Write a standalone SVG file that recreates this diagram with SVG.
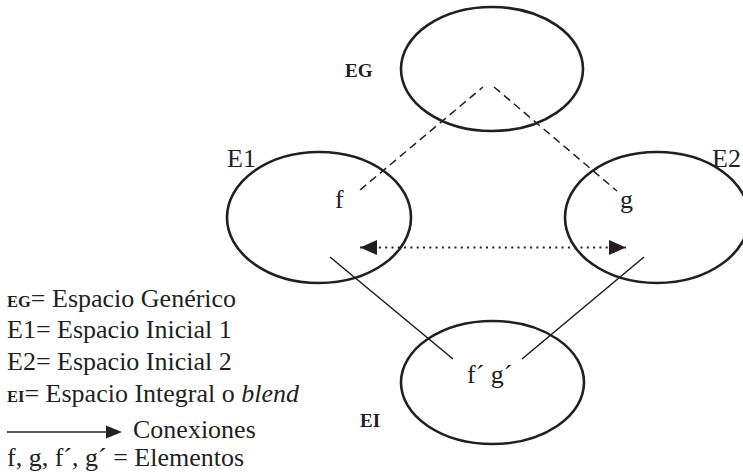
<svg xmlns="http://www.w3.org/2000/svg" width="743" height="474" viewBox="0 0 743 474">
  <style>
    text { fill: #231f20; }
    .space { fill: none; stroke: #231f20; stroke-width: 2.6; }
    .dash { stroke: #231f20; stroke-width: 1.5; stroke-dasharray: 8 5; fill: none; }
    .dot { stroke: #231f20; stroke-width: 2; stroke-dasharray: 2 4.3; fill: none; }
    .solid { stroke: #231f20; stroke-width: 1.6; fill: none; }
  </style>
  <defs>
    <marker id="head" markerWidth="17" markerHeight="15" refX="17" refY="7.5" orient="auto-start-reverse" markerUnits="userSpaceOnUse">
      <path d="M0,0 L17,7.5 L0,15 Z" fill="#231f20"/>
    </marker>
  </defs>

  <!-- generic space -->
  <g id="eg">
    <ellipse class="space" cx="492" cy="69" rx="91" ry="62"/>
    <text style="font-family:'Liberation Serif',serif;font-size:19px;font-weight:bold" x="345" y="77">EG</text>
  </g>

  <!-- input space 1 -->
  <g id="e1">
    <ellipse class="space" cx="319" cy="217.5" rx="92" ry="65.5"/>
    <text style="font-family:'Liberation Serif',serif;font-size:26px" x="227" y="167">E1</text>
    <text style="font-family:'Liberation Serif',serif;font-size:26px" x="335" y="208">f</text>
  </g>

  <!-- input space 2 -->
  <g id="e2">
    <ellipse class="space" cx="657" cy="217.5" rx="92" ry="65.5"/>
    <text style="font-family:'Liberation Serif',serif;font-size:26px" x="712" y="167">E2</text>
    <text style="font-family:'Liberation Serif',serif;font-size:26px" x="620" y="208">g</text>
  </g>

  <!-- blended space -->
  <g id="ei">
    <ellipse class="space" cx="492.5" cy="382.5" rx="91.5" ry="61.5"/>
    <text style="font-family:'Liberation Serif',serif;font-size:19px;font-weight:bold" x="360" y="427">EI</text>
    <text style="font-family:'Liberation Serif',serif;font-size:26px" x="467" y="383">f&#180; g&#180;</text>
  </g>

  <!-- connectors -->
  <g id="connectors">
    <line class="dash" x1="360" y1="190" x2="483" y2="87"/>
    <line class="dash" x1="494" y1="87" x2="617" y2="191"/>
    <line class="dot" x1="360" y1="247.5" x2="626" y2="247.5" marker-start="url(#head)" marker-end="url(#head)"/>
    <line class="solid" x1="330" y1="257" x2="453" y2="359"/>
    <line class="solid" x1="644" y1="257" x2="522" y2="359"/>
  </g>

  <!-- legend -->
  <g id="legend">
    <text style="font-family:'Liberation Serif',serif;font-size:26px" x="7" y="307"><tspan style="font-size:16.5px;font-weight:bold">EG</tspan>= Espacio Gen&#233;rico</text>
    <text style="font-family:'Liberation Serif',serif;font-size:26px" x="7" y="338">E1= Espacio Inicial 1</text>
    <text style="font-family:'Liberation Serif',serif;font-size:26px" x="7" y="370">E2= Espacio Inicial 2</text>
    <text style="font-family:'Liberation Serif',serif;font-size:26px" x="7" y="402"><tspan style="font-size:16.5px;font-weight:bold">EI</tspan>= Espacio Integral o <tspan style="font-style:italic">blend</tspan></text>
    <line class="solid" x1="7" y1="432" x2="108" y2="432"/>
    <path d="M106,425.5 L122,432 L106,438.5 Z" fill="#231f20"/>
    <text style="font-family:'Liberation Serif',serif;font-size:26px" x="133" y="438">Conexiones</text>
    <text style="font-family:'Liberation Serif',serif;font-size:26px" x="7" y="466">f, g, f&#180;, g&#180; = Elementos</text>
  </g>
</svg>
